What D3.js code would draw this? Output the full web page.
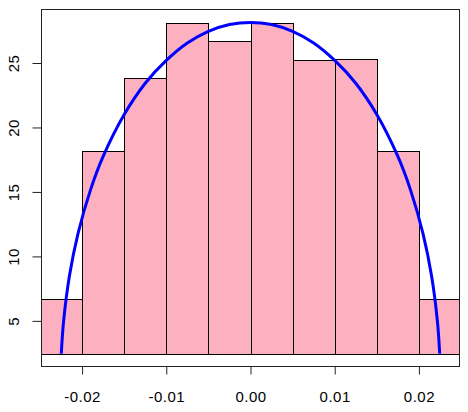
<!DOCTYPE html>
<html lang="en">
<head>
  <meta charset="UTF-8">
  <title>Histogram with semicircle curve</title>
  <style>
    body { margin: 0; background: white; }
    text { font-family: "Liberation Sans", Arial, sans-serif; }
  </style>
</head>
<body>
<div id="chart"></div>
<script src="https://d3js.org/d3.v7.min.js"></script>
<script>
  // histogram bins (left / right edges) and bar heights
  const binStart = [-0.025, -0.02, -0.015, -0.01, -0.005, 0, 0.005, 0.01, 0.015, 0.02];
  const binEnd = [-0.02, -0.015, -0.01, -0.005, 0, 0.005, 0.01, 0.015, 0.02, 0.025];
  const barHeight = [6.73, 18.15, 23.86, 28.1, 26.68, 28.1, 25.27, 25.3, 18.15, 6.73];
  const barBase = 2.45;

  // blue curve
  const curveX = [-0.02247, -0.0222, -0.0215, -0.0205, -0.019, -0.0175, -0.015, -0.0125, -0.01, -0.0075, -0.005, -0.0025, 0,
                  0.0025, 0.005, 0.0075, 0.01, 0.0125, 0.015, 0.0175, 0.019, 0.0205, 0.0215, 0.0222, 0.02247];
  const curveY = [2.45, 4.94, 8.49, 11.73, 15.16, 17.75, 21.0, 23.43, 25.2, 26.55, 27.45, 27.98, 28.15,
                  27.98, 27.45, 26.55, 25.2, 23.43, 21.0, 17.75, 15.16, 11.73, 8.49, 4.94, 2.45];

  const xTicks = [-0.02, -0.01, 0, 0.01, 0.02];
  const xTickLabels = ["-0.02", "-0.01", "0.00", "0.01", "0.02"];
  const yTicks = [5, 10, 15, 20, 25];

  const width = 468, height = 412;
  const plotLeft = 41.5, plotRight = 459.5, plotTop = 9.5, plotBottom = 366.5;

  const svg = d3.select("#chart").append("svg")
    .attr("width", width)
    .attr("height", height);

  const x = d3.scaleLinear().domain([-0.02482, 0.02482]).range([plotLeft, plotRight]);
  const y = d3.scaleLinear().domain([1.46, 29.15]).range([plotBottom, plotTop]);

  svg.append("clipPath").attr("id", "plotclip")
    .append("rect")
    .attr("x", plotLeft).attr("y", plotTop)
    .attr("width", plotRight - plotLeft).attr("height", plotBottom - plotTop);

  const plot = svg.append("g").attr("clip-path", "url(#plotclip)");

  const bars = d3.range(barHeight.length);
  plot.selectAll("rect.bar")
    .data(bars)
    .enter()
    .append("rect")
    .attr("class", "bar")
    .attr("x", i => Math.round(x(binStart[i])) + 0.5)
    .attr("y", i => Math.round(y(barHeight[i])) + 0.5)
    .attr("width", i => Math.round(x(binEnd[i])) - Math.round(x(binStart[i])))
    .attr("height", i => Math.round(y(barBase)) - Math.round(y(barHeight[i])))
    .attr("fill", "#fdb0c0")
    .attr("stroke", "black")
    .attr("stroke-width", 1);

  const line = d3.line()
    .x(d => x(d[0]))
    .y(d => y(d[1]))
    .curve(d3.curveCatmullRom.alpha(0.5));

  plot.append("path")
    .datum(curveX.map((v, i) => [v, curveY[i]]))
    .attr("d", line)
    .attr("fill", "none")
    .attr("stroke", "#0000ff")
    .attr("stroke-width", 3);

  // box
  svg.append("rect")
    .attr("x", plotLeft).attr("y", plotTop)
    .attr("width", plotRight - plotLeft).attr("height", plotBottom - plotTop)
    .attr("fill", "none")
    .attr("stroke", "#222")
    .attr("stroke-width", 1);

  // x axis
  const xAxis = d3.axisBottom(x)
    .tickValues(xTicks)
    .tickFormat((d, i) => xTickLabels[i])
    .tickSize(8)
    .tickPadding(17)
    .tickSizeOuter(0);

  const gx = svg.append("g")
    .attr("transform", `translate(0,${plotBottom})`)
    .call(xAxis);
  gx.select(".domain").remove();
  gx.selectAll("line").attr("stroke", "#222");
  gx.selectAll("text")
    .style("font-size", "15px")
    .style("letter-spacing", "0.5px")
    .attr("fill", "black");

  // y axis
  const yAxis = d3.axisLeft(y)
    .tickValues(yTicks)
    .tickSize(9)
    .tickSizeOuter(0)
    .tickFormat(d3.format("d"));

  const gy = svg.append("g")
    .attr("transform", `translate(${plotLeft},0)`)
    .call(yAxis);
  gy.select(".domain").remove();
  gy.selectAll("line").attr("stroke", "#222");
  gy.selectAll("text")
    .attr("x", 0)
    .attr("dy", 0)
    .attr("transform", "translate(-23,0) rotate(-90)")
    .attr("text-anchor", "middle")
    .style("font-size", "15px")
    .style("letter-spacing", "0.5px")
    .attr("fill", "black");
</script>
</body>
</html>
